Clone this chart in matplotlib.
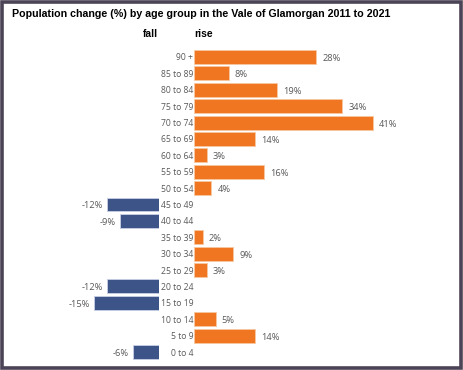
import matplotlib.pyplot as plt
from matplotlib.patches import Rectangle

# Data
age_groups = ["0 to 4", "5 to 9", "10 to 14", "15 to 19", "20 to 24", "25 to 29",
              "30 to 34", "35 to 39", "40 to 44", "45 to 49", "50 to 54", "55 to 59",
              "60 to 64", "65 to 69", "70 to 74", "75 to 79", "80 to 84", "85 to 89",
              "90 +"]
change = [-6, 14, 5, -15, -12, 3, 9, 2, -9, -12, 4, 16, 3, 14, 41, 34, 19, 8, 28]

orange = "#F07622"
blue = "#3D5488"
grey = "#595959"

W, H = 463, 370
fig = plt.figure(figsize=(W / 100, H / 100), dpi=100)

px = 4.36  # pixels per percentage point
top, bottom = 48.8, 360.2

def ax_rect(x0, x1):
    return [x0 / W, 1 - bottom / H, (x1 - x0) / W, (bottom - top) / H]

ax_neg = fig.add_axes(ax_rect(12, 159))
ax_pos = fig.add_axes(ax_rect(194, 452))
ax_neg.set_xlim(-147 / px, 0)
ax_pos.set_xlim(0, 258 / px)

ypos = list(range(len(age_groups)))
neg_y = [y for y, v in zip(ypos, change) if v < 0]
neg_v = [v for v in change if v < 0]
pos_y = [y for y, v in zip(ypos, change) if v > 0]
pos_v = [v for v in change if v > 0]

ax_neg.barh(neg_y, neg_v, height=0.85, color=blue, edgecolor="#c8d0e6", linewidth=0.6)
ax_pos.barh(pos_y, pos_v, height=0.85, color=orange, edgecolor="#f8c8a0", linewidth=0.6)

# value labels
for y, v in zip(neg_y, neg_v):
    ax_neg.annotate(f"{v}%", (v, y), xytext=(-4, -1.5), textcoords="offset pixels",
                    ha="right", va="center", fontsize=6.7, color=grey, family="Open Sans")
for y, v in zip(pos_y, pos_v):
    ax_pos.annotate(f"{v}%", (v, y), xytext=(6, -1.5), textcoords="offset pixels",
                    ha="left", va="center", fontsize=6.7, color=grey, family="Open Sans")

for ax in (ax_neg, ax_pos):
    ax.set_ylim(-0.5, len(age_groups) - 0.5)
    ax.set_xticks([])
    for s in ax.spines.values():
        s.set_visible(False)
    ax.patch.set_alpha(0)

ax_neg.set_yticks([])
ax_pos.set_yticks(ypos)
ax_pos.set_yticklabels(age_groups, fontsize=6.2, color=grey, family="Open Sans")
ax_pos.tick_params(axis="y", length=0, pad=0.6)

fig.text(12 / W, 1 - 14 / H, "Population change (%) by age group in the Vale of Glamorgan 2011 to 2021",
         fontsize=7.65, fontweight="bold", family="Liberation Sans", va="center", ha="left")
fig.text(158 / W, 1 - 34 / H, "fall", fontsize=7.4, fontweight="bold",
         family="Liberation Sans", va="center", ha="right")
fig.text(194 / W, 1 - 34 / H, "rise", fontsize=7.4, fontweight="bold",
         family="Liberation Sans", va="center", ha="left")

# border round the picture
fig.patches.append(Rectangle((1.75 / W, 1.75 / H), 1 - 3.5 / W, 1 - 3.5 / H,
                             transform=fig.transFigure, fill=False,
                             edgecolor="#4b4356", linewidth=2.6))

fig.savefig("out.png", dpi=100)
